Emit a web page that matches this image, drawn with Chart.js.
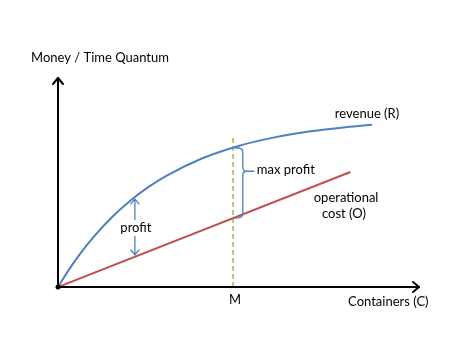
<!DOCTYPE html>
<html>
<head>
<meta charset="utf-8">
<script src="https://cdn.jsdelivr.net/npm/chart.js@4/dist/chart.umd.min.js"></script>
<style>
html,body{margin:0;padding:0;background:#fff;}
canvas{display:block;}
</style>
</head>
<body>
<canvas id="c" width="463" height="358"></canvas>
<script>
// Data (x: containers, y: money / time quantum), arbitrary units
const revenueX = [0, 3, 6, 10, 15, 20, 25, 30, 40, 50, 60, 70, 80, 87];
const revenueY = [0, 8.2, 15.6, 24.2, 33.5, 41.3, 47.8, 53.2, 61.6, 67.5, 71.6, 74.5, 76.5, 77.6];
const costX = [0, 81];
const costY = [0, 55];
const markerX = [48.5, 48.5];      // M
const markerY = [0, 72.7];
const profitAt = 21.3;              // x where the "profit" arrow is drawn
const braceX = 51.2;                // x of the "max profit" brace
const labels = {
  yTitle: "Money / Time Quantum",
  xTitle: "Containers (C)",
  m: "M",
  revenue: "revenue (R)",
  cost1: "operational",
  cost2: "cost (O)",
  profit: "profit",
  maxProfit: "max profit"
};

const BLUE = "#4F81BD", RED = "#C0504D", GREEN = "#9BBB59";
const FONT = '13px Lato, "Open Sans", sans-serif';

function interp(xs, ys, x) {
  for (let i = 0; i < xs.length - 1; i++) {
    if (x >= xs[i] && x <= xs[i + 1]) {
      const t = (x - xs[i]) / (xs[i + 1] - xs[i]);
      return ys[i] + t * (ys[i + 1] - ys[i]);
    }
  }
  return ys[ys.length - 1];
}

function arrowHead(ctx, x, y, dir, size) {
  ctx.beginPath();
  if (dir === 'up') { ctx.moveTo(x - size, y + size * 1.2); ctx.lineTo(x, y); ctx.lineTo(x + size, y + size * 1.2); }
  if (dir === 'down') { ctx.moveTo(x - size, y - size * 1.2); ctx.lineTo(x, y); ctx.lineTo(x + size, y - size * 1.2); }
  if (dir === 'right') { ctx.moveTo(x - size * 1.2, y - size); ctx.lineTo(x, y); ctx.lineTo(x - size * 1.2, y + size); }
  ctx.stroke();
}

const decor = {
  id: 'decor',
  afterDatasetsDraw(chart) {
    const ctx = chart.ctx;
    const xs = chart.scales.x, ys = chart.scales.y;
    const X = v => xs.getPixelForValue(v), Y = v => ys.getPixelForValue(v);
    const ox = X(0), oy = Y(0);
    ctx.save();
    // axes
    ctx.strokeStyle = '#000'; ctx.lineWidth = 2; ctx.lineCap = 'round'; ctx.lineJoin = 'round';
    ctx.beginPath(); ctx.moveTo(ox, oy); ctx.lineTo(ox, Y(100)); ctx.stroke();
    ctx.beginPath(); ctx.moveTo(ox, oy); ctx.lineTo(X(100), oy); ctx.stroke();
    arrowHead(ctx, ox, Y(100), 'up', 5);
    arrowHead(ctx, X(100), oy, 'right', 5);
    ctx.fillStyle = '#000';
    ctx.beginPath(); ctx.arc(ox, oy, 2.5, 0, Math.PI * 2); ctx.fill();

    // profit arrow
    const px = X(profitAt);
    const top = Y(interp(revenueX, revenueY, profitAt)) + 2;
    const bot = Y(interp(costX, costY, profitAt)) - 2;
    ctx.strokeStyle = BLUE; ctx.lineWidth = 1.3;
    ctx.beginPath(); ctx.moveTo(px, top); ctx.lineTo(px, bot); ctx.stroke();
    arrowHead(ctx, px, top, 'up', 4);
    arrowHead(ctx, px, bot, 'down', 4);

    // brace for max profit
    const bx = X(braceX);
    const bTop = Y(interp(revenueX, revenueY, markerX[0]));
    const bBot = Y(interp(costX, costY, markerX[0]));
    const bMid = bTop + (bBot - bTop) / 3;
    const r = 4;
    ctx.strokeStyle = BLUE; ctx.lineWidth = 1.3;
    ctx.beginPath();
    ctx.moveTo(bx - r * 2, bTop);
    ctx.quadraticCurveTo(bx, bTop, bx, bTop + r);
    ctx.lineTo(bx, bMid - r);
    ctx.quadraticCurveTo(bx, bMid, bx + r, bMid);
    ctx.quadraticCurveTo(bx, bMid, bx, bMid + r);
    ctx.lineTo(bx, bBot - r);
    ctx.quadraticCurveTo(bx, bBot, bx - r * 2, bBot);
    ctx.stroke();
    ctx.beginPath(); ctx.moveTo(bx + r, bMid); ctx.lineTo(bx + 11, bMid); ctx.stroke();

    // texts
    ctx.font = FONT; ctx.fillStyle = '#000'; ctx.textBaseline = 'middle';
    ctx.textAlign = 'center';
    ctx.fillText(labels.yTitle, ox + 42, Y(100) - 20);
    ctx.fillText(labels.xTitle, X(91.5), oy + 15);
    ctx.fillText(labels.m, X(markerX[0]) + 2, oy + 13);
    ctx.fillText(labels.revenue, X(85.6), Y(82.7));
    const pw = ctx.measureText(labels.profit).width;
    const ly = (top + bot) / 2 + 1;
    ctx.fillStyle = '#fff';
    ctx.fillRect(px - pw / 2 - 2, ly - 8, pw + 4, 16);
    ctx.fillStyle = '#000';
    ctx.fillText(labels.profit, px + 1, ly);
    ctx.textAlign = 'left';
    ctx.fillText(labels.maxProfit, bx + 14, bMid - 1);
    ctx.textAlign = 'center';
    ctx.fillText(labels.cost1, X(79.8), Y(42.8));
    ctx.fillText(labels.cost2, X(79.2), Y(35.1));
    ctx.restore();
  }
};

new Chart(document.getElementById('c'), {
  type: 'line',
  data: {
    datasets: [
      {
        data: revenueX.map((x, i) => ({ x, y: revenueY[i] })),
        borderColor: BLUE, borderWidth: 2, pointRadius: 0,
        cubicInterpolationMode: 'monotone', fill: false
      },
      {
        data: costX.map((x, i) => ({ x, y: costY[i] })),
        borderColor: RED, borderWidth: 2, pointRadius: 0, fill: false
      },
      {
        data: markerX.map((x, i) => ({ x, y: markerY[i] })),
        borderColor: GREEN, borderWidth: 1.5, borderDash: [5, 3], pointRadius: 0, fill: false
      }
    ]
  },
  options: {
    responsive: false,
    animation: false,
    events: [],
    layout: { padding: { left: 58, right: 44, top: 78, bottom: 71 } },
    scales: {
      x: { type: 'linear', min: 0, max: 100, display: false },
      y: { type: 'linear', min: 0, max: 100, display: false }
    },
    plugins: { legend: { display: false }, tooltip: { enabled: false } }
  },
  plugins: [decor]
});
</script>
</body>
</html>
